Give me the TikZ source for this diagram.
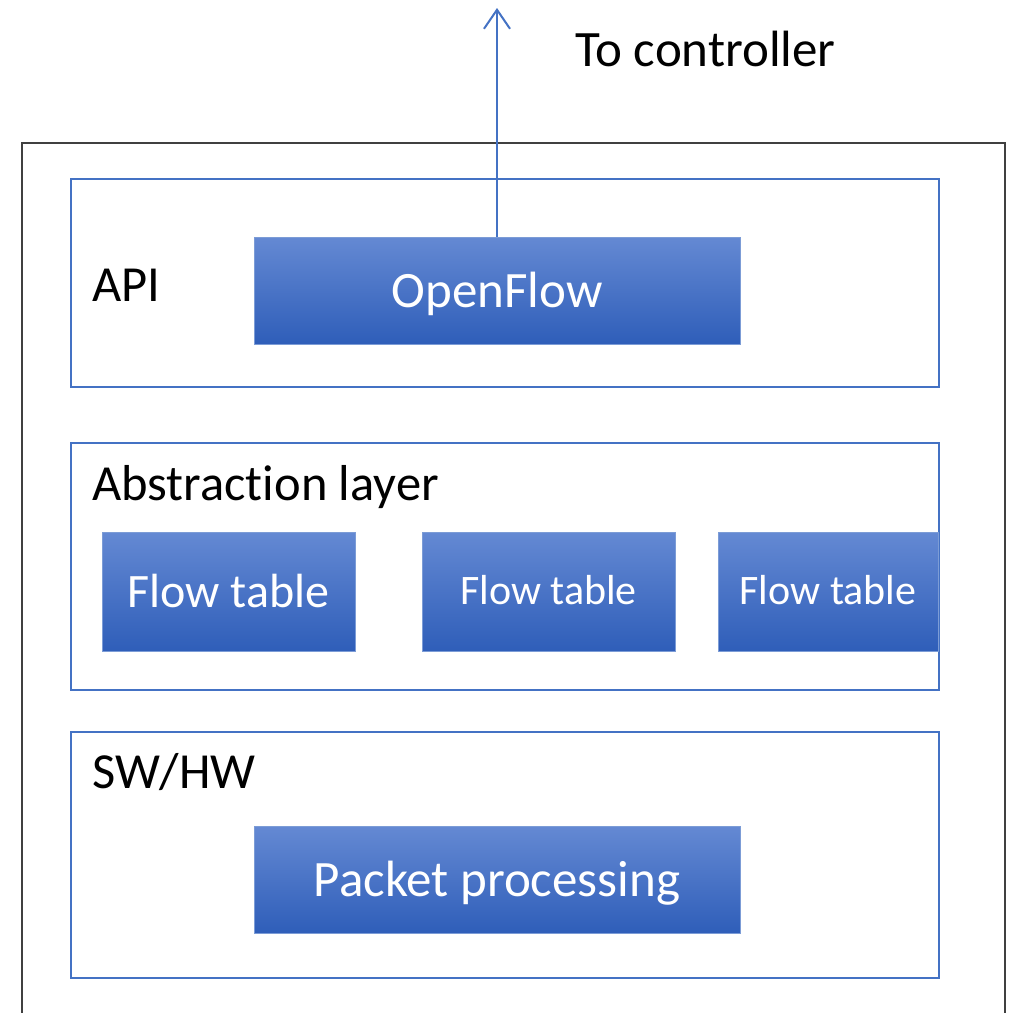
\documentclass[tikz,border=0pt]{standalone}
\usepackage{fontspec}
\setmainfont{Carlito}[RawFeature={-liga}]
\usetikzlibrary{arrows.meta}
\definecolor{accent}{HTML}{4472C4}
\definecolor{topc}{HTML}{6489D3}
\definecolor{botc}{HTML}{2F5EB9}
\definecolor{frame}{HTML}{404040}
\tikzset{
  layerbox/.style={draw=accent, line width=1.5pt, anchor=north west, inner sep=0pt},
  bluebox/.style={draw=accent!70, line width=1pt, top color=topc, bottom color=botc, text=white, inner sep=0pt, font=\fontsize{51}{60}\selectfont},
  widebox/.style={bluebox, minimum width=486pt, minimum height=107pt, text height=36pt, text depth=3pt},
  lbl/.style={anchor=base west, inner sep=0pt, font=\fontsize{50.5}{60}\selectfont},
  arrowline/.style={draw=accent, line width=2pt, -{Straight Barb[length=19pt,width=26pt,line width=2pt]}}
}
\begin{document}
\begin{tikzpicture}[x=1pt,y=-1pt]
\useasboundingbox (0,0) rectangle (1010,1013);
\fill[white] (0,0) rectangle (1010,1013);
% outer frame (open at bottom)
\draw[frame, line width=2pt] (22,1013) -- (22,143) -- (1005,143) -- (1005,1013);
% layers
\node[layerbox, minimum width=868pt, minimum height=208pt] (api) at (70,178) {};
\node[layerbox, minimum width=868pt, minimum height=247pt] (abs) at (70,442) {};
\node[layerbox, minimum width=868pt, minimum height=246pt] (hw) at (70,731) {};
% labels
\node[lbl] (lapi) at (92,301) {API};
\node[lbl] (labs) at (92,500) {Abstraction layer};
\node[lbl] (lhw) at (92,788) {SW/HW};
% blue boxes
\node[widebox] (of) at (497,290.5) {OpenFlow};
\node[bluebox, minimum width=253pt, minimum height=119pt, font=\fontsize{48}{58}\selectfont] (ft1) at (228.5,591.5) {Flow table};
\node[bluebox, minimum width=253pt, minimum height=119pt, font=\fontsize{42}{50}\selectfont] (ft2) at (548.5,591.5) {\raisebox{4pt}{Flow table}};
\node[bluebox, minimum width=220pt, minimum height=119pt, font=\fontsize{42}{50}\selectfont] (ft3) at (828,591.5) {\raisebox{4pt}{Flow table}};
\node[widebox] (pp) at (497,879.5) {Packet processing};
% arrow to controller
\coordinate (ctrl) at (497,8);
\draw[arrowline] (of.north) -- (ctrl);
\node[lbl, font=\fontsize{51}{60}\selectfont] (lctrl) at (575,66) {To controller};
\end{tikzpicture}
\end{document}
